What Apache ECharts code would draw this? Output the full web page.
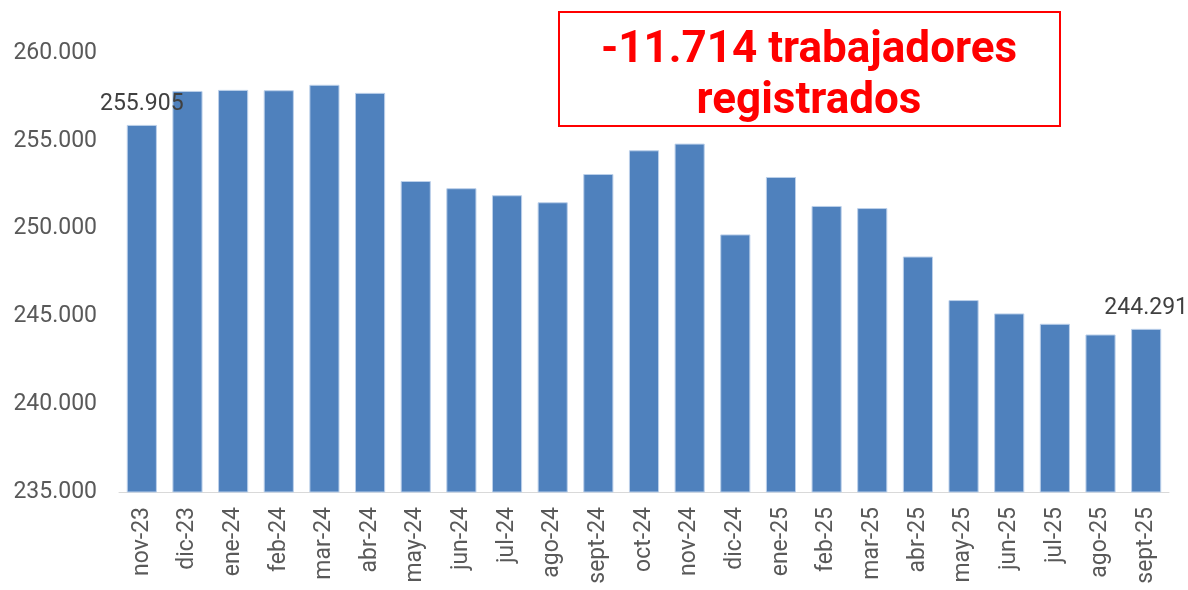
<!DOCTYPE html>
<html>
<head>
<meta charset="utf-8">
<script src="https://cdn.jsdelivr.net/npm/echarts@6/dist/echarts.min.js"></script>
<style>
  * { margin: 0; padding: 0; }
  body { background: #ffffff; }
  #chart { width: 1188px; height: 590px; }
</style>
</head>
<body>
<div id="chart"></div>
<script>
// meses
const months = [
  "nov-23", "dic-23", "ene-24", "feb-24", "mar-24", "abr-24", "may-24",
  "jun-24", "jul-24", "ago-24", "sept-24", "oct-24", "nov-24", "dic-24",
  "ene-25", "feb-25", "mar-25", "abr-25", "may-25", "jun-25", "jul-25",
  "ago-25", "sept-25",
];
// trabajadores registrados
const workers = [
  255905, 257840, 257900, 257880, 258190, 257730, 252710,
  252300, 251900, 251500, 253110, 254460, 254840, 249670,
  252940, 251290, 251170, 248410, 245930, 245170, 244580,
  243970, 244291,
];
// solo primer y ultimo valor con etiqueta
const labeled = [0, workers.length - 1];
const yTicks = [235000, 240000, 245000, 250000, 255000, 260000];
const boxLines = ["-11.714 trabajadores", "registrados"];

// 255905 -> "255.905"
function fmt(v) {
  return String(Math.round(v)).replace(/\B(?=(\d{3})+(?!\d))/g, ".");
}

const chart = echarts.init(document.getElementById("chart"));

const option = {
  animation: false,
  textStyle: { fontFamily: "Roboto" },
  grid: { left: 119, right: 19, top: 53, bottom: 98 },
  xAxis: {
    type: "category",
    data: months,
    axisLine: { lineStyle: { color: "#d9d9d9", width: 1 } },
    axisTick: { length: 6, lineStyle: { color: "#d9d9d9" } },
    axisLabel: {
      rotate: 90,
      margin: 15,
      fontSize: 23,
      color: "#595959",
      fontFamily: "Roboto",
    },
  },
  yAxis: {
    type: "value",
    min: yTicks[0],
    max: yTicks[yTicks.length - 1],
    interval: 5000,
    splitLine: { show: false },
    axisLine: { show: false },
    axisTick: { show: false },
    axisLabel: {
      margin: 22,
      fontSize: 23,
      color: "#595959",
      fontFamily: "Roboto",
      formatter: (v) => fmt(v),
    },
  },
  series: [
    {
      type: "bar",
      barCategoryGap: "34%",
      itemStyle: {
        color: "#4f81bd",
        borderColor: "#bcd0ea",
        borderWidth: 1,
      },
      data: workers.map((v, i) => ({
        value: v,
        label: {
          show: labeled.includes(i),
          position: "top",
          distance: 9,
          fontSize: 23,
          color: "#404040",
          fontFamily: "Roboto",
          formatter: (p) => fmt(p.value),
        },
      })),
    },
  ],
  graphic: [
    {
      type: "rect",
      left: 558,
      top: 11,
      shape: { width: 501, height: 114 },
      style: { fill: "#ffffff", stroke: "#ff0000", lineWidth: 2 },
      z: 10,
    },
    {
      type: "text",
      x: 809,
      y: 25,
      z: 11,
      style: {
        text: boxLines.join("\n"),
        align: "center",
        verticalAlign: "top",
        fontSize: 44,
        lineHeight: 51,
        fontWeight: "bold",
        fontFamily: "Roboto",
        fill: "#ff0000",
      },
    },
  ],
};

chart.setOption(option);
</script>
</body>
</html>
